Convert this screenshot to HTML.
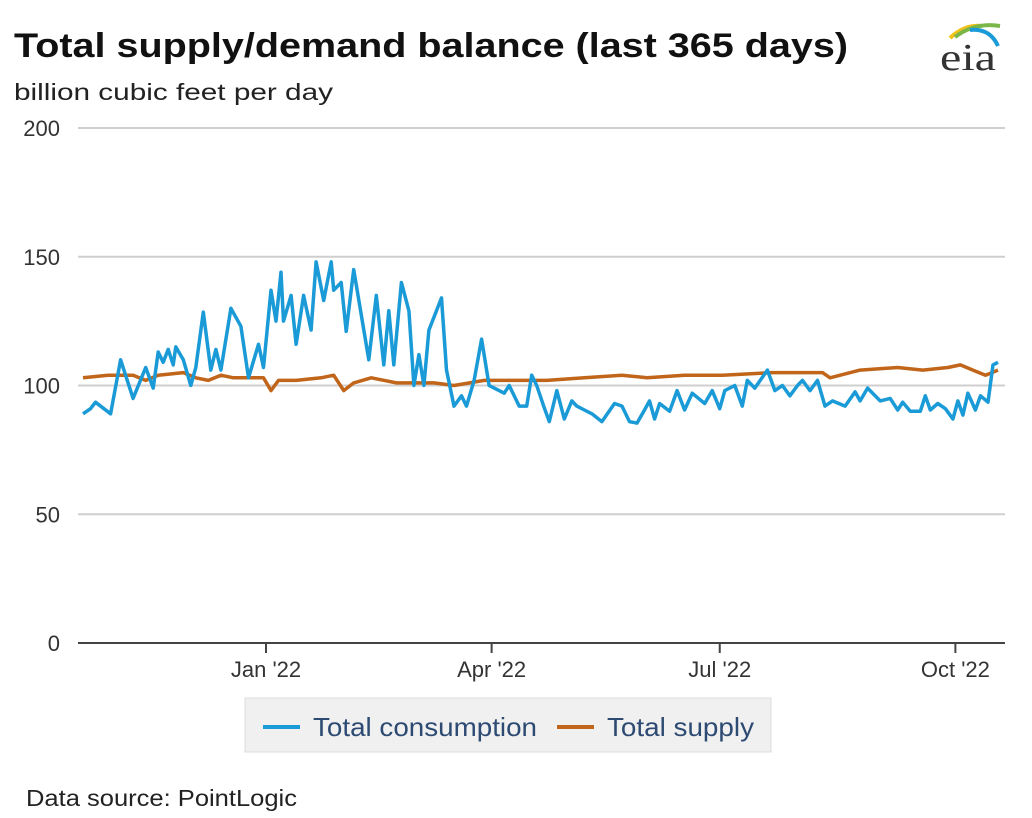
<!DOCTYPE html>
<html><head><meta charset="utf-8"><style>
body{margin:0;background:#fff;width:1032px;height:813px;overflow:hidden;font-family:"Liberation Sans",Arial,sans-serif;}
</style></head><body>
<svg width="1032" height="813" viewBox="0 0 1032 813" xmlns="http://www.w3.org/2000/svg" font-family="Liberation Sans, Arial, sans-serif">
<text x="14" y="57" font-size="34" font-weight="bold" fill="#111" textLength="834" lengthAdjust="spacingAndGlyphs">Total supply/demand balance (last 365 days)</text>
<text x="14" y="100" font-size="23" fill="#222" textLength="319" lengthAdjust="spacingAndGlyphs">billion cubic feet per day</text>
<g>
<path d="M950 38 Q965 24 982 26" stroke="#f2c21b" stroke-width="4" fill="none"/>
<path d="M955 37 Q975 22 1000 26" stroke="#7ab648" stroke-width="4" fill="none"/>
<path d="M970 30 Q990 28 998 46" stroke="#1a9ad6" stroke-width="4" fill="none"/>
<text x="940" y="70" font-family="Liberation Serif, serif" font-size="38" fill="#333" textLength="56" lengthAdjust="spacingAndGlyphs">eia</text>
</g>
<g id="grid"></g>
<g id="series"></g>
<g id="xaxis"></g>
<g>
<rect x="245" y="698" width="526" height="54" fill="#f0f0f0" stroke="#ddd"/>
<line x1="263" y1="727" x2="300" y2="727" stroke="#1a9ad6" stroke-width="4"/>
<text x="313" y="736" font-size="26" fill="#2c4a72" textLength="224" lengthAdjust="spacingAndGlyphs">Total consumption</text>
<line x1="557" y1="727" x2="594" y2="727" stroke="#c0651a" stroke-width="4"/>
<text x="607" y="736" font-size="26" fill="#2c4a72" textLength="147" lengthAdjust="spacingAndGlyphs">Total supply</text>
</g>
<text x="26" y="806" font-size="23" fill="#222" textLength="271" lengthAdjust="spacingAndGlyphs">Data source: PointLogic</text>
</svg>
<script>
const yTicks=[0,50,100,150,200];
const xTickDays=[73,163,254,348];
const xTickLabels=["Jan '22","Apr '22","Jul '22","Oct '22"];
const consDays=[0,3,5,11,15,20,25,28,30,32,34,36,37,40,43,45,48,51,53,55,59,63,66,70,72,75,77,79,80,83,85,88,91,93,96,99,100,103,105,108,114,117,120,122,124,127,130,132,134,136,138,143,145,148,151,153,156,159,162,166,168,170,174,177,179,181,184,186,189,192,195,197,200,203,207,212,215,218,221,224,226,228,230,234,237,240,243,248,251,254,256,260,263,265,268,273,276,279,282,285,287,290,293,296,299,304,308,310,313,318,322,325,327,330,334,336,338,341,344,347,349,351,353,356,358,361,363,365];
const consVals=[89,91,93.5,89,110,95,107,99,113,109,114,108,115,110,100,107,128.5,106,114,106,130,123,103,116,107,137,125,144,125,135,116,135,121.5,148,133,148,137,140,121,145,110,135,108,129,108,140,129,100,112,100,121.5,134,106,92,96,92,102,118,100,98,97,100,92,92,104,100,91.3,86,98,87,94,92,90.5,89,86,93,92,86,85.4,90.5,94,87,93,90,98,90.5,97,93,98,91,98,100,92,102,99,106,98,100,96,100,102,98,102,92,94,92,97.5,94,99,94,95,90.5,93.5,90,90,96,90.5,93,91,87,94,88.5,97,90.5,96,93.5,108,109];
const supDays=[0,10,20,25,30,40,45,50,55,60,65,72,75,78,85,95,100,104,108,115,125,140,148,160,170,185,200,215,225,240,255,275,285,295,298,310,325,335,345,350,355,360,365];
const supVals=[103,104,104,102,104,105,103,102,104,103,103,103,98,102,102,103,104,98,101,103,101,101,100,102,102,102,103,104,103,104,104,105,105,105,103,106,107,106,107,108,106,104,106];
const X0=83,X1=998,Y0=643,Y1=128;
const xs=d=>X0+(X1-X0)*d/365;
const ys=v=>Y0-(Y0-Y1)*v/200;
const NS="http://www.w3.org/2000/svg";
const grid=document.getElementById('grid');
yTicks.forEach(t=>{
  const l=document.createElementNS(NS,'line');
  
  
  l.setAttribute('x1',78);l.setAttribute('x2',1005);
  l.setAttribute('y1',ys(t));l.setAttribute('y2',ys(t));
  l.setAttribute('stroke',t===0?'#444':'#cfcfcf');l.setAttribute('stroke-width',2);
  grid.appendChild(l);
  const tx=document.createElementNS(NS,'text');
  
  
  tx.setAttribute('x',60);tx.setAttribute('y',ys(t)+8);
  tx.setAttribute('text-anchor','end');tx.setAttribute('font-size','22');tx.setAttribute('fill','#333');
  tx.textContent=t;grid.appendChild(tx);
});
const xa=document.getElementById('xaxis');
xTickDays.forEach((d,i)=>{
  const l=document.createElementNS(NS,'line');
  
  
  l.setAttribute('x1',xs(d));l.setAttribute('x2',xs(d));l.setAttribute('y1',643);l.setAttribute('y2',653);
  l.setAttribute('stroke','#444');l.setAttribute('stroke-width',2);xa.appendChild(l);
  const tx=document.createElementNS(NS,'text');
  
  
  tx.setAttribute('x',xs(d));tx.setAttribute('y',677);tx.setAttribute('text-anchor','middle');
  tx.setAttribute('font-size','22');tx.setAttribute('fill','#333');
  tx.textContent=xTickLabels[i];xa.appendChild(tx);
});
const ser=document.getElementById('series');
function line(days,vals,color,name){
  const p=document.createElementNS(NS,'polyline');
  
  
  p.setAttribute('points',days.map((d,i)=>xs(d).toFixed(1)+','+ys(vals[i]).toFixed(1)).join(' '));
  p.setAttribute('fill','none');p.setAttribute('stroke',color);p.setAttribute('stroke-width',3.5);
  p.setAttribute('stroke-linejoin','round');
  ser.appendChild(p);
}
line(supDays,supVals,'#c0651a','supply-line');
line(consDays,consVals,'#1a9ad6','consumption-line');
</script>
</body></html>
